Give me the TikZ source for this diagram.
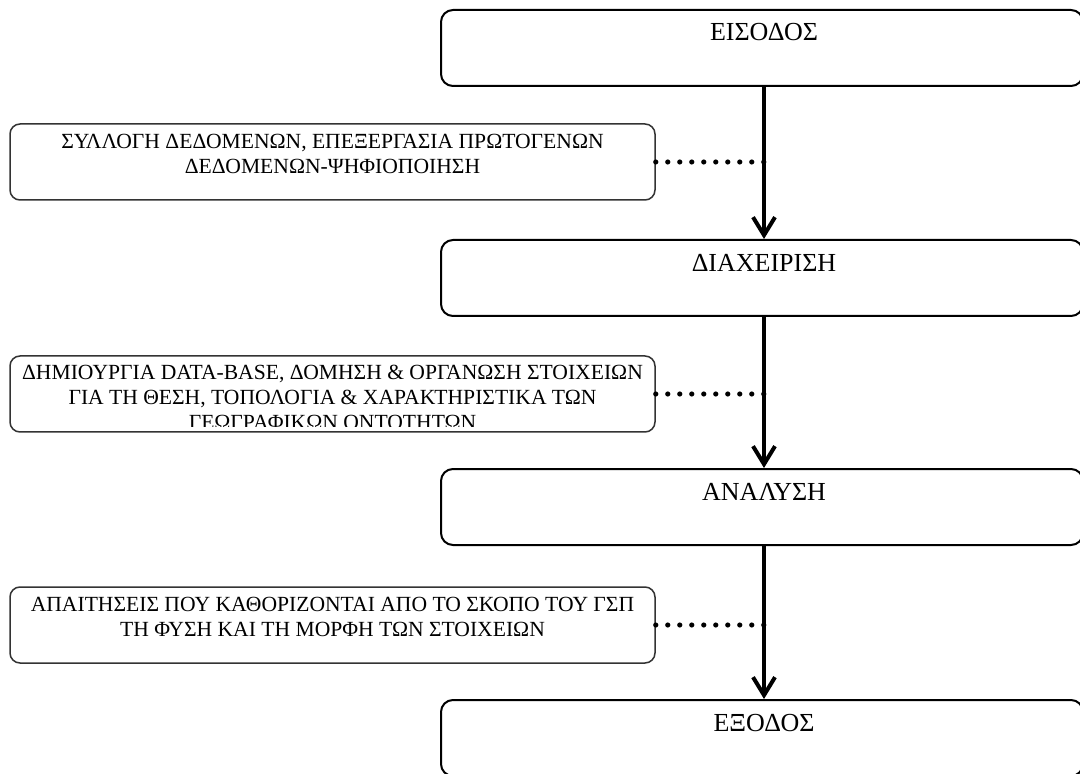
\documentclass[tikz,border=0pt]{standalone}
\usepackage{fontspec}
\setmainfont{Liberation Serif}
\usetikzlibrary{arrows.meta}
\begin{document}
\begin{tikzpicture}[x=0.5pt,y=-0.5pt,
  bigbox/.style={draw, line width=1pt, rounded corners=6pt, minimum width=321pt, minimum height=38pt, inner sep=0pt},
  smallbox/.style={draw=black!80, line width=0.75pt, rounded corners=5pt, minimum width=322.5pt, minimum height=38pt, inner sep=0pt},
  bigtext/.style={font=\fontsize{13}{15}\selectfont, anchor=north, inner sep=0pt},
  boxtext/.style={font=\fontsize{10.8}{12.5}\selectfont, align=center, anchor=north, inner sep=0pt},
  flow/.style={line width=2pt, -{Straight Barb[length=9pt,width=11pt,line width=2pt]}},
  dots/.style={line width=2.6pt, line cap=round, dash pattern=on 0pt off 6pt}]
\useasboundingbox (0,0) rectangle (1080,774);
% main boxes
\node[bigbox] (b1) at (762,48) {};
\node[bigbox] (b2) at (762,278) {};
\node[bigbox] (b3) at (762,507) {};
\node[bigbox] (b4) at (762,738) {};
\node[bigtext] (t1) at (764,23) {ΕΙΣΟΔΟΣ};
\node[bigtext] (t2) at (764,254) {ΔΙΑΧΕΙΡΙΣΗ};
\node[bigtext] (t3) at (764,483) {ΑΝΑΛΥΣΗ};
\node[bigtext] (t4) at (764,714) {ΕΞΟΔΟΣ};
% side boxes
\node[smallbox] (s1) at (332.5,162) {};
\node[smallbox] (s2) at (332.5,394) {};
\node[smallbox] (s3) at (332.5,625) {};
\node[boxtext] (u1) at (332.5,134) {ΣΥΛΛΟΓΗ ΔΕΔΟΜΕΝΩΝ, ΕΠΕΞΕΡΓΑΣΙΑ ΠΡΩΤΟΓΕΝΩΝ\\ΔΕΔΟΜΕΝΩΝ-ΨΗΦΙΟΠΟΙΗΣΗ};
\begin{scope}
  \clip (s2.north west) rectangle (658,427);
  \node[boxtext] (u2) at (332.5,365) {ΔΗΜΙΟΥΡΓΙΑ DATA-BASE, ΔΟΜΗΣΗ \& ΟΡΓΑΝΩΣΗ ΣΤΟΙΧΕΙΩΝ\\ΓΙΑ ΤΗ ΘΕΣΗ, ΤΟΠΟΛΟΓΙΑ \& ΧΑΡΑΚΤΗΡΙΣΤΙΚΑ ΤΩΝ\\ΓΕΩΓΡΑΦΙΚΩΝ ΟΝΤΟΤΗΤΩΝ};
\end{scope}
\node[boxtext] (u3) at (332.5,597) {ΑΠΑΙΤΗΣΕΙΣ ΠΟΥ ΚΑΘΟΡΙΖΟΝΤΑΙ ΑΠΟ ΤΟ ΣΚΟΠΟ ΤΟΥ ΓΣΠ\\ΤΗ ΦΥΣΗ ΚΑΙ ΤΗ ΜΟΡΦΗ ΤΩΝ ΣΤΟΙΧΕΙΩΝ};
% arrow line x
\coordinate (ax) at (764,0);
\draw[flow] (b1.south -| ax) -- (b2.north -| ax);
\draw[flow] (b2.south -| ax) -- (b3.north -| ax);
\draw[flow] (b3.south -| ax) -- (b4.north -| ax);
% dotted links
\draw[dots] (s1.east) -- (s1.east -| ax);
\draw[dots] (s2.east) -- (s2.east -| ax);
\draw[dots] (s3.east) -- (s3.east -| ax);
\end{tikzpicture}
\end{document}
